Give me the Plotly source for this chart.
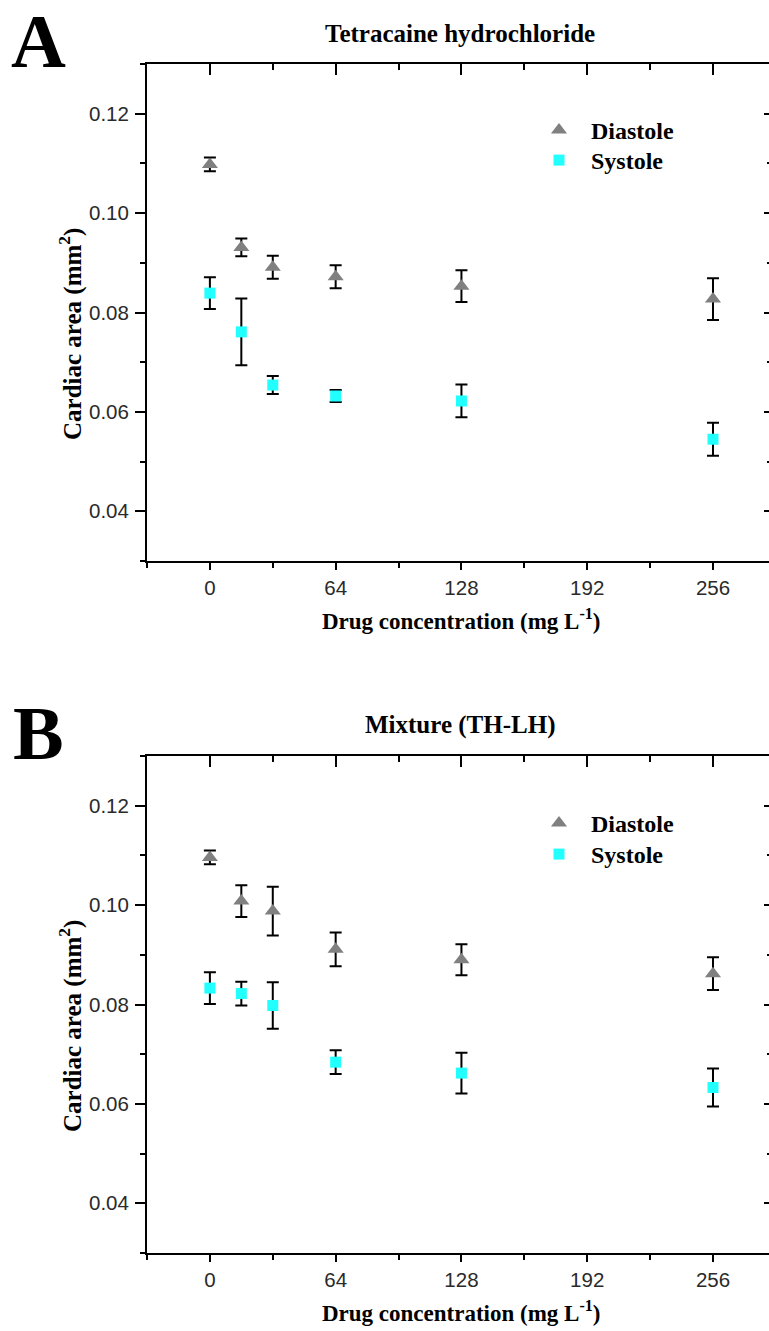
import plotly.graph_objects as go

# ---- data ----
conc = [0, 16, 32, 64, 128, 256]

a_dia = [0.1098, 0.0931, 0.0891, 0.0872, 0.0853, 0.0827]
a_dia_err = [0.0014, 0.0018, 0.0023, 0.0023, 0.0032, 0.0042]
a_sys = [0.0839, 0.0761, 0.0654, 0.0632, 0.0622, 0.0545]
a_sys_err = [0.0032, 0.0067, 0.0018, 0.0012, 0.0033, 0.0033]

b_dia = [0.1096, 0.1008, 0.0988, 0.0911, 0.0890, 0.0862]
b_dia_err = [0.0014, 0.0032, 0.0049, 0.0034, 0.0031, 0.0033]
b_sys = [0.0833, 0.0822, 0.0798, 0.0684, 0.0662, 0.0633]
b_sys_err = [0.0032, 0.0024, 0.0047, 0.0024, 0.0041, 0.0038]

panel_titles = ["Tetracaine hydrochloride", "Mixture (TH-LH)"]
panel_letters = ["A", "B"]
series_names = ["Diastole", "Systole"]

W, H = 769, 1331
SERIF = "Liberation Serif, Times New Roman, serif"
SANS = "Liberation Sans, Arial, sans-serif"

GRAY = "#808080"
CYAN = "#22FFFF"

fig = go.Figure()

def add_panel(idx, dia, dia_err, sys_, sys_err, legs):
    xa = "x" if idx == 0 else "x2"
    ya = "y" if idx == 0 else "y2"
    fig.add_trace(go.Scatter(
        x=conc, y=dia, mode="markers", name="&nbsp;&nbsp;" + series_names[0],
        xaxis=xa, yaxis=ya, legend=legs[0],
        marker=dict(symbol="triangle-up", size=14, color=GRAY),
        error_y=dict(type="data", array=dia_err, visible=True,
                     color="black", thickness=2, width=6),
    ))
    fig.add_trace(go.Scatter(
        x=conc, y=sys_, mode="markers", name="&nbsp;&nbsp;" + series_names[1],
        xaxis=xa, yaxis=ya, legend=legs[1],
        marker=dict(symbol="square", size=11, color=CYAN),
        error_y=dict(type="data", array=sys_err, visible=True,
                     color="black", thickness=2, width=6),
    ))
    # dummy trace for mirrored (top/right) axes
    fig.add_trace(go.Scatter(
        x=[None], y=[None], xaxis="x3" if idx == 0 else "x4",
        yaxis="y3" if idx == 0 else "y4", showlegend=False, hoverinfo="skip"))

add_panel(0, a_dia, a_dia_err, a_sys, a_sys_err, ["legend", "legend2"])
add_panel(1, b_dia, b_dia_err, b_sys, b_sys_err, ["legend3", "legend4"])

x_left = 147 / W
xdom = [x_left, 1.0]
xrange = [-32, 284.5]
yrange = [0.03, 0.13]

def ydom(top_px, bot_px):
    return [1 - bot_px / H, 1 - top_px / H]

domA = ydom(64, 561)
domB = ydom(756, 1253)

tickfont = dict(family=SANS, size=20.5, color="#2a2a2a")

def xbottom(anchor):
    return dict(domain=xdom, range=xrange, anchor=anchor, showgrid=False,
                zeroline=False, showline=True, linecolor="black", linewidth=2,
                ticks="outside", ticklen=7, tickwidth=1.6, tickcolor="black",
                tickmode="linear", tick0=0, dtick=64, tickfont=tickfont,
                minor=dict(ticks="outside", ticklen=5, tickwidth=1.6,
                           tickcolor="black", tick0=0, dtick=32, showgrid=False))

def xtop(overlay, anchor):
    return dict(domain=xdom, range=xrange, anchor=anchor, overlaying=overlay,
                side="top", showgrid=False, zeroline=False, showline=True,
                linecolor="black", linewidth=2, ticks="inside", ticklen=11,
                tickwidth=1.6, tickcolor="black", tickmode="linear", tick0=0,
                dtick=64, showticklabels=False,
                minor=dict(ticks="inside", ticklen=6, tickwidth=1.6,
                           tickcolor="black", tick0=0, dtick=32, showgrid=False))

def yleft(dom, anchor):
    return dict(domain=dom, range=yrange, anchor=anchor, showgrid=False,
                zeroline=False, showline=True, linecolor="black", linewidth=2,
                ticks="outside", ticklen=10, tickwidth=1.6, tickcolor="black",
                tickmode="linear", tick0=0, dtick=0.02, tickformat=".2f",
                tickfont=tickfont, ticklabelstandoff=2,
                minor=dict(ticks="outside", ticklen=5, tickwidth=1.6,
                           tickcolor="black", tick0=0, dtick=0.01, showgrid=False))

def yright(dom, overlay, anchor):
    return dict(domain=dom, range=yrange, anchor=anchor, overlaying=overlay,
                side="right", showgrid=False, zeroline=False, showline=False,
                ticks="inside", ticklen=5, tickwidth=1.6, tickcolor="black",
                tickmode="linear", tick0=0, dtick=0.02, showticklabels=False,
                minor=dict(ticks="inside", ticklen=2, tickwidth=1.6,
                           tickcolor="black", tick0=0, dtick=0.01, showgrid=False))

legfont = dict(family=SERIF, size=24, color="black", weight="bold")

def legend_at(center_px):
    return dict(x=539 / W, y=1 - (center_px - 21) / H, xanchor="left",
                yanchor="top", bgcolor="rgba(0,0,0,0)", font=legfont,
                itemsizing="trace", borderwidth=0)

fig.update_layout(
    width=W, height=H, margin=dict(l=0, r=0, t=0, b=0),
    paper_bgcolor="white", plot_bgcolor="white",
    xaxis=xbottom("y"), yaxis=yleft(domA, "x"),
    xaxis3=xtop("x", "y3"), yaxis3=yright(domA, "y", "x3"),
    xaxis2=xbottom("y2"), yaxis2=yleft(domB, "x2"),
    xaxis4=xtop("x2", "y4"), yaxis4=yright(domB, "y2", "x4"),
    legend=legend_at(129), legend2=legend_at(159),
    legend3=legend_at(822), legend4=legend_at(853),
    showlegend=True,
)

def bold(s):
    return "<b>" + s + "</b>"

annots = []
for i, off in enumerate([0, 692]):
    annots.append(dict(text=bold(panel_letters[i]), x=38 / W, y=1 - (41 + off) / H,
                       xref="paper", yref="paper", showarrow=False,
                       font=dict(family=SERIF, size=76, color="black"),
                       xanchor="center", yanchor="middle"))
    annots.append(dict(text=bold(panel_titles[i]), x=460 / W, y=1 - (33 + off) / H,
                       xref="paper", yref="paper", showarrow=False,
                       font=dict(family=SERIF, size=25, color="black"),
                       xanchor="center", yanchor="middle"))
    annots.append(dict(text=bold("Drug concentration (mg L<sup>-1</sup>)"),
                       x=461 / W, y=1 - (619 + off) / H,
                       xref="paper", yref="paper", showarrow=False,
                       font=dict(family=SERIF, size=23, color="black"),
                       xanchor="center", yanchor="middle"))
    annots.append(dict(text=bold("Cardiac area (mm<sup>2</sup>)"),
                       x=70 / W, y=1 - (334 + off) / H, textangle=-90,
                       xref="paper", yref="paper", showarrow=False,
                       font=dict(family=SERIF, size=25, color="black"),
                       xanchor="center", yanchor="middle"))
fig.update_layout(annotations=annots)

fig.write_html("out.html")
